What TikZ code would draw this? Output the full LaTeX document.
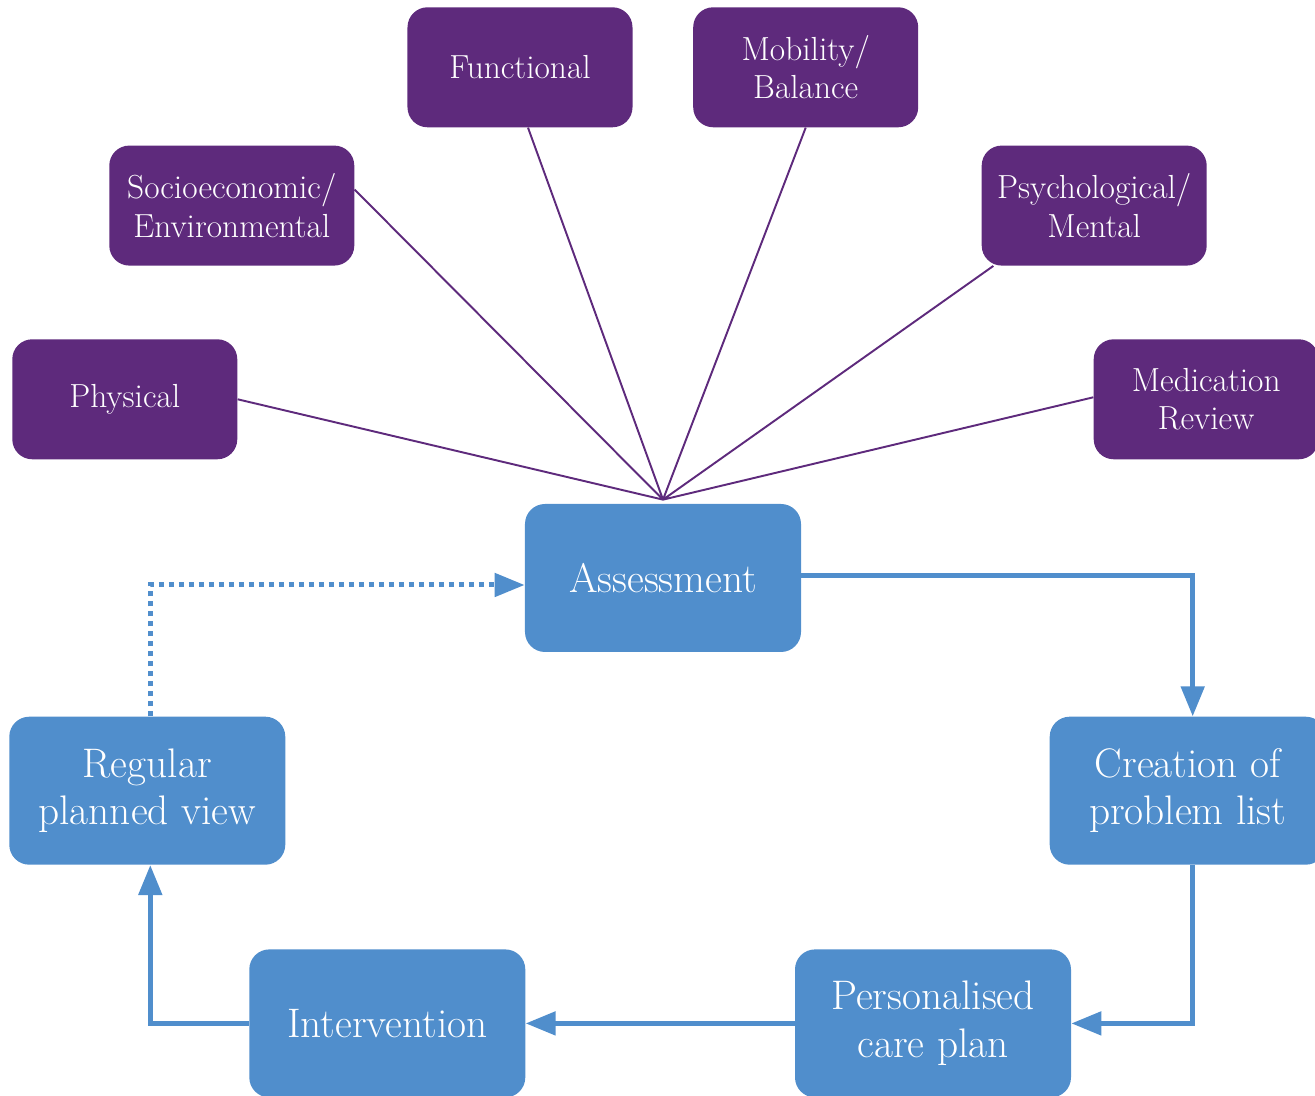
\documentclass[tikz,border=0pt]{standalone}
\usepackage{tikz}
\usetikzlibrary{arrows.meta,positioning}
\definecolor{factor}{RGB}{94,42,124}
\definecolor{cycle}{RGB}{80,142,204}

\begin{document}
\begin{tikzpicture}
  \tikzset{>={Triangle[length=6mm,width=4.6mm]},
    factor/.style={fill=factor,text=white,rounded corners=0.4cm,align=center,
      minimum width=4.5cm,minimum height=2.4cm,
      font=\fontsize{19}{22}\selectfont},
    stage/.style={fill=cycle,text=white,rounded corners=0.4cm,align=center,
      minimum width=5.52cm,minimum height=2.96cm,
      font=\fontsize{23.5}{27}\selectfont},
    flow/.style={draw=cycle,line width=0.1cm,->},
    review/.style={flow,dash pattern=on 0.1cm off 0.1cm}}
  \useasboundingbox (-13.26,-10.36) rectangle (13.04,11.56);
    % the cycle
    \node [stage] (assess) {Assessment};
    \node [stage,below right=1.28cm and 4.96cm of assess] (problems) {Creation of\\problem list};
    \node [stage,below left=1.28cm and 4.78cm of assess] (regular) {Regular\\planned view};
    \node [stage,below=1.68cm of regular,xshift=4.8cm] (interv) {Intervention};
    \node [stage,right=5.38cm of interv] (careplan) {Personalised\\care plan};
    % the domains
    \node [factor,above left=0.88cm and 5.74cm of assess] (physical) {Physical};
    \node [factor,above right=0.88cm and 5.84cm of assess] (medication) {Medication\\Review};
    \node [factor,minimum width=4.9cm,above=1.46cm of physical,xshift=2.14cm] (socio) {Socioeconomic/\\Environmental};
    \node [factor,above=1.46cm of medication,xshift=-2.24cm] (psych) {Psychological/\\Mental};
    \node [factor,above=7.52cm of assess,xshift=-2.86cm] (functional) {Functional};
    \node [factor,right=1.2cm of functional] (mobility) {Mobility/\\Balance};
    \coordinate (hub) at ([yshift=0.08cm]assess.north);
    \draw [draw=factor,line width=1.1pt] (physical.east) -- (hub)
      ([yshift=0.32cm]socio.east) -- (hub)
      ([xshift=0.16cm]functional.south) -- (hub)
      (mobility.south) -- (hub)
      ([xshift=0.24cm]psych.south west) -- (hub)
      ([yshift=0.04cm]medication.west) -- (hub);
    \draw [flow] ([yshift=0.04cm]assess.east) -| ([xshift=0.1cm]problems.north);
    \draw [flow] ([xshift=0.1cm]problems.south) |- (careplan.east);
    \draw [flow] (careplan.west) -- (interv.east);
    \draw [flow] (interv.west) -| ([xshift=0.06cm]regular.south);
    \draw [review] ([xshift=0.06cm]regular.north) |- ([yshift=-0.14cm]assess.west);
  \end{tikzpicture}
\end{document}
